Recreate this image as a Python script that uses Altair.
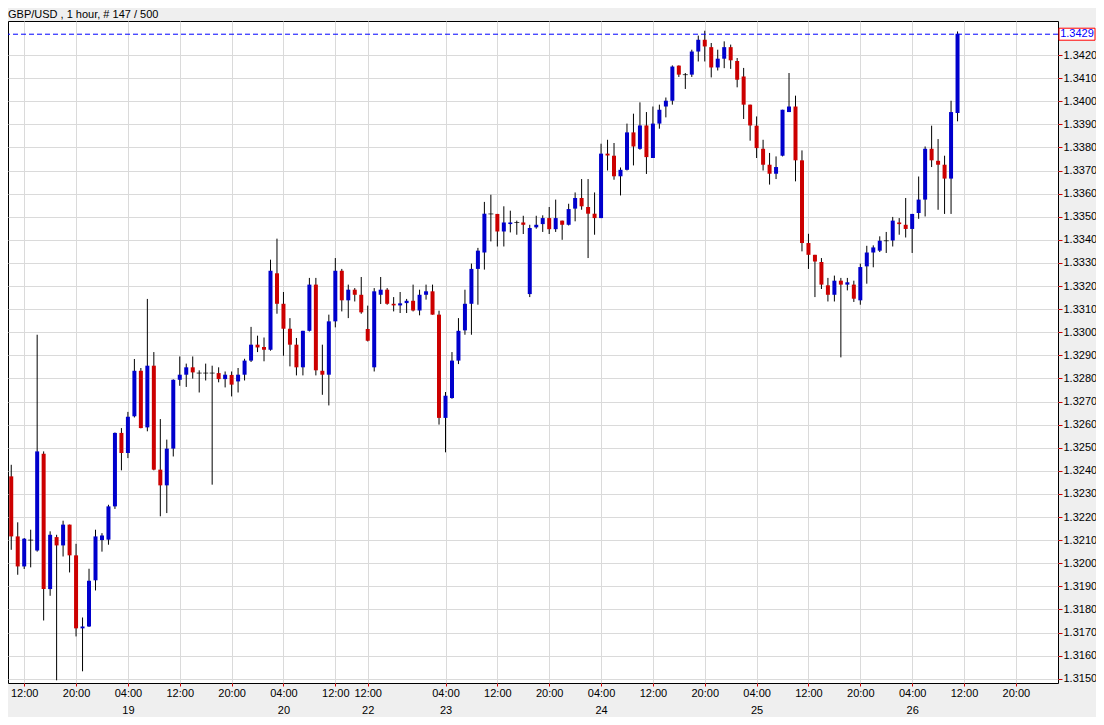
import altair as alt
import pandas as pd

# ---- hourly candles ----
opens = [1.32376, 1.32116, 1.31986, 1.32100, 1.32055, 1.32474, 1.31888, 1.32113, 1.32077, 1.32167,
         1.32034, 1.31718, 1.31726, 1.31926, 1.32100, 1.32102, 1.32246, 1.32564, 1.32477, 1.32636,
         1.32833, 1.32588, 1.32855, 1.32405, 1.32337, 1.32496, 1.32794, 1.32816, 1.32848, 1.32823,
         1.32823, 1.32823, 1.32823, 1.32797, 1.32815, 1.32787, 1.32816, 1.32877, 1.32946, 1.32936,
         1.32924, 1.33255, 1.33123, 1.33015, 1.32946, 1.32848, 1.33006, 1.33206, 1.32833, 1.32816,
         1.33047, 1.33266, 1.33138, 1.33184, 1.33162, 1.33014, 1.32848, 1.33162, 1.33184, 1.33123,
         1.33116, 1.33126, 1.33136, 1.33094, 1.33162, 1.33177, 1.33076, 1.32629, 1.32715, 1.32877,
         1.33008, 1.33123, 1.33274, 1.33345, 1.33512, 1.33512, 1.33436, 1.33468, 1.33475, 1.33475,
         1.33165, 1.33454, 1.33468, 1.33494, 1.33446, 1.33483, 1.33465, 1.33535, 1.33581, 1.33542,
         1.33513, 1.33494, 1.33773, 1.33764, 1.33675, 1.33703, 1.33865, 1.33794, 1.33895, 1.33754,
         1.33903, 1.33977, 1.34002, 1.34154, 1.34115, 1.34115, 1.34215, 1.34266, 1.34234, 1.34146,
         1.34184, 1.34234, 1.34174, 1.34107, 1.33985, 1.33894, 1.33794, 1.33725, 1.33686, 1.33764,
         1.33953, 1.33977, 1.33744, 1.33386, 1.33335, 1.33304, 1.33203, 1.33162, 1.33223, 1.33206,
         1.33206, 1.33138, 1.33285, 1.33345, 1.33353, 1.33396, 1.33397, 1.33475, 1.33465, 1.33447,
         1.33516, 1.33574, 1.33794, 1.33742, 1.33725, 1.33665, 1.33949]
highs = [1.32426, 1.32177, 1.32109, 1.32145, 1.32989, 1.32484, 1.32138, 1.32123, 1.32184, 1.32167,
         1.32084, 1.31765, 1.31976, 1.32145, 1.32130, 1.32253, 1.32566, 1.32585, 1.32655, 1.32884,
         1.32845, 1.33144, 1.32914, 1.32624, 1.32535, 1.32796, 1.32895, 1.32864, 1.32895, 1.32835,
         1.32864, 1.32855, 1.32848, 1.32830, 1.32830, 1.32845, 1.32885, 1.33023, 1.32985, 1.32977,
         1.33314, 1.33405, 1.33174, 1.33061, 1.32975, 1.33006, 1.33235, 1.33235, 1.32946, 1.33076,
         1.33321, 1.33274, 1.33206, 1.33191, 1.33239, 1.33115, 1.33191, 1.33239, 1.33191, 1.33152,
         1.33174, 1.33144, 1.33206, 1.33184, 1.33206, 1.33206, 1.33093, 1.32741, 1.32914, 1.33061,
         1.33184, 1.33297, 1.33365, 1.33564, 1.33595, 1.33512, 1.33545, 1.33526, 1.33483, 1.33504,
         1.33465, 1.33504, 1.33506, 1.33542, 1.33574, 1.33483, 1.33556, 1.33605, 1.33663, 1.33663,
         1.33605, 1.33816, 1.33833, 1.33819, 1.33713, 1.33903, 1.33946, 1.33995, 1.33953, 1.33977,
         1.33985, 1.34016, 1.34155, 1.34155, 1.34122, 1.34223, 1.34284, 1.34305, 1.34252, 1.34223,
         1.34259, 1.34245, 1.34187, 1.34144, 1.33985, 1.33934, 1.33833, 1.33776, 1.33761, 1.33963,
         1.34122, 1.34024, 1.33787, 1.33426, 1.33335, 1.33321, 1.33235, 1.33245, 1.33235, 1.33235,
         1.33223, 1.33297, 1.33374, 1.33376, 1.33415, 1.33434, 1.33499, 1.33494, 1.33581, 1.33512,
         1.33674, 1.33804, 1.33894, 1.33836, 1.33764, 1.34002, 1.34302]
lows = [1.32058, 1.31950, 1.31975, 1.31982, 1.32050, 1.31752, 1.31859, 1.31493, 1.32029, 1.31960,
        1.31683, 1.31532, 1.31724, 1.31882, 1.32050, 1.32080, 1.32235, 1.32402, 1.32455, 1.32631,
        1.32584, 1.32571, 1.32402, 1.32203, 1.32217, 1.32462, 1.32768, 1.32763, 1.32799, 1.32739,
        1.32791, 1.32340, 1.32783, 1.32761, 1.32722, 1.32739, 1.32791, 1.32871, 1.32914, 1.32874,
        1.32920, 1.33080, 1.32898, 1.32852, 1.32813, 1.32813, 1.33003, 1.32813, 1.32729, 1.32683,
        1.33021, 1.33090, 1.33061, 1.33133, 1.33080, 1.32960, 1.32830, 1.33122, 1.33119, 1.33090,
        1.33083, 1.33083, 1.33090, 1.33073, 1.33141, 1.33076, 1.32600, 1.32480, 1.32712, 1.32862,
        1.32989, 1.32989, 1.33119, 1.33271, 1.33393, 1.33371, 1.33371, 1.33432, 1.33422, 1.33425,
        1.33152, 1.33448, 1.33434, 1.33425, 1.33434, 1.33400, 1.33462, 1.33480, 1.33530, 1.33321,
        1.33422, 1.33494, 1.33700, 1.33660, 1.33592, 1.33700, 1.33722, 1.33790, 1.33685, 1.33754,
        1.33881, 1.33930, 1.33985, 1.34105, 1.34053, 1.34105, 1.34172, 1.34172, 1.34103, 1.34133,
        1.34143, 1.34140, 1.34060, 1.33923, 1.33829, 1.33754, 1.33700, 1.33639, 1.33663, 1.33761,
        1.33953, 1.33653, 1.33350, 1.33274, 1.33152, 1.33187, 1.33133, 1.33133, 1.32891, 1.33181,
        1.33131, 1.33119, 1.33210, 1.33281, 1.33347, 1.33343, 1.33371, 1.33422, 1.33410, 1.33343,
        1.33491, 1.33501, 1.33715, 1.33530, 1.33512, 1.33512, 1.33913]
closes = [1.32116, 1.31986, 1.32106, 1.32100, 1.32484, 1.31888, 1.32123, 1.32077, 1.32167, 1.32034,
          1.31718, 1.31726, 1.31924, 1.32116, 1.32120, 1.32246, 1.32564, 1.32477, 1.32634, 1.32833,
          1.32585, 1.32855, 1.32405, 1.32337, 1.32496, 1.32794, 1.32816, 1.32848, 1.32826, 1.32823,
          1.32823, 1.32823, 1.32797, 1.32816, 1.32773, 1.32816, 1.32877, 1.32946, 1.32934, 1.32924,
          1.33266, 1.33123, 1.33015, 1.32946, 1.32848, 1.33006, 1.33206, 1.32835, 1.32816, 1.33047,
          1.33266, 1.33138, 1.33184, 1.33162, 1.33086, 1.32963, 1.33177, 1.33184, 1.33123, 1.33116,
          1.33125, 1.33136, 1.33094, 1.33162, 1.33177, 1.33076, 1.32629, 1.32725, 1.32877, 1.33006,
          1.33123, 1.33274, 1.33353, 1.33513, 1.33512, 1.33436, 1.33475, 1.33475, 1.33475, 1.33465,
          1.33451, 1.33465, 1.33494, 1.33446, 1.33494, 1.33465, 1.33533, 1.33581, 1.33545, 1.33513,
          1.33494, 1.33773, 1.33765, 1.33675, 1.33703, 1.33865, 1.33804, 1.33895, 1.33758, 1.33903,
          1.33963, 1.34002, 1.34150, 1.34115, 1.34115, 1.34215, 1.34266, 1.34237, 1.34146, 1.34184,
          1.34234, 1.34177, 1.34093, 1.33985, 1.33895, 1.33797, 1.33725, 1.33686, 1.33715, 1.33963,
          1.33977, 1.33744, 1.33386, 1.33335, 1.33306, 1.33206, 1.33162, 1.33223, 1.33206, 1.33216,
          1.33145, 1.33282, 1.33345, 1.33367, 1.33396, 1.33396, 1.33483, 1.33468, 1.33447, 1.33512,
          1.33574, 1.33794, 1.33744, 1.33725, 1.33665, 1.33953, 1.34292]

# ---- axis ticks ----
tick_idx = [2, 10, 18, 26, 34, 42, 50, 55, 67, 75, 83, 91, 99, 107, 115, 123, 131, 139, 147, 155]
tick_time = ["12:00", "20:00", "04:00", "12:00", "20:00", "04:00", "12:00", "12:00", "04:00", "12:00",
             "20:00", "04:00", "12:00", "20:00", "04:00", "12:00", "20:00", "04:00", "12:00", "20:00"]
tick_date = ["", "", "19", "", "", "20", "", "22", "23", "", "", "24", "", "", "25", "", "", "26", "", ""]
price_ticks = [1.315, 1.316, 1.317, 1.318, 1.319, 1.320, 1.321, 1.322, 1.323, 1.324, 1.325, 1.326,
               1.327, 1.328, 1.329, 1.330, 1.331, 1.332, 1.333, 1.334, 1.335, 1.336, 1.337, 1.338,
               1.339, 1.340, 1.341, 1.342]
current_price = [1.3429]
current_label = ["1.3429"]
title_text = "GBP/USD , 1 hour, # 147 / 500"

BLUE = "#0000cc"
RED = "#cc0000"
GRID = "#dadada"
FONT = "Liberation Sans"

n = len(opens)
direction = ["up" if c > o else ("down" if c < o else "flat") for o, c in zip(opens, closes)]
df = pd.DataFrame({"i": list(range(n)), "o": opens, "h": highs, "l": lows, "c": closes, "d": direction})
price_df = pd.DataFrame({"p": current_price, "label": current_label})

W, H = 1050, 662
x_scale = alt.Scale(domain=[-0.5, 161.5], nice=False, zero=False, padding=0)
y_scale = alt.Scale(domain=[1.3148139, 1.3434719], nice=False, zero=False, padding=0)

label_arr = "[" + ",".join("'" + (t + "|" + d if d else t) + "'" for t, d in zip(tick_time, tick_date)) + "]"
idx_arr = "[" + ",".join(str(v) for v in tick_idx) + "]"
label_expr = f"split({label_arr}[indexof({idx_arr}, datum.value)], '|')"

x_axis = alt.Axis(values=tick_idx, labelExpr=label_expr, title=None, grid=True, gridColor=GRID,
                  tickColor="#d00000", tickSize=3, domain=False, labelFontSize=11, labelColor="black",
                  labelFont=FONT, labelPadding=1, labelLineHeight=17, labelAngle=0, labelBaseline="top",
                  labelAlign="center", labelOverlap=False, labelFlush=False)
y_axis = alt.Axis(orient="right", values=price_ticks, format=".4f", title=None, grid=True, gridColor=GRID,
                  tickColor="#d00000", tickSize=4, domain=False, labelFontSize=11, labelColor="black",
                  labelFont=FONT, labelPadding=1, labelOverlap=False, labelFlush=False, labelBound=False)


def X(field):
    return alt.X(field, type="quantitative", scale=x_scale, axis=x_axis)


def Y(field):
    return alt.Y(field, type="quantitative", scale=y_scale, axis=y_axis)


base = alt.Chart(df)
wick = base.mark_rule(color="black", strokeWidth=1).encode(x=X("i"), y=Y("l"), y2="h:Q")
body = base.transform_filter("datum.d != 'flat'").mark_bar(size=4).encode(
    x=X("i"), y=Y("o"), y2="c:Q",
    color=alt.Color("d:N", scale=alt.Scale(domain=["up", "down"], range=[BLUE, RED]), legend=None),
)
doji = base.transform_filter("datum.d == 'flat'").mark_tick(
    orient="horizontal", thickness=1, size=5, color="black"
).encode(x=X("i"), y=Y("c"))

pbase = alt.Chart(price_df)
pline = pbase.mark_rule(color="#0000ff", strokeDash=[5, 3], strokeWidth=1).encode(y=Y("p"))
pbox = pbase.mark_point(shape="M-1,-0.333L1,-0.333L1,0.333L-1,0.333Z", size=1296, filled=True,
                        fill="white", stroke="#ff0000", strokeWidth=1, opacity=1).encode(
    x=alt.value(W + 19), y=Y("p"))
ptext = pbase.mark_text(color="#0000ff", font=FONT, fontSize=11, align="center", baseline="middle").encode(
    x=alt.value(W + 19), y=Y("p"), text="label:N")

chart = alt.layer(wick, body, doji, pline, pbox, ptext).properties(
    width=W, height=H,
    background="#efefef",
    autosize=alt.AutoSizeParams(type="none"),
    padding={"left": 0, "top": 13, "right": 38, "bottom": 34},
    title=alt.TitleParams(text=title_text, anchor="start", frame="group", fontSize=11, fontWeight="normal",
                          font=FONT, color="black", offset=1),
).configure_view(stroke="black", strokeWidth=1, fill="white").configure_axis(labelOverlap=False)

chart.save("out.html", embed_options={"renderer": "svg", "actions": False})
